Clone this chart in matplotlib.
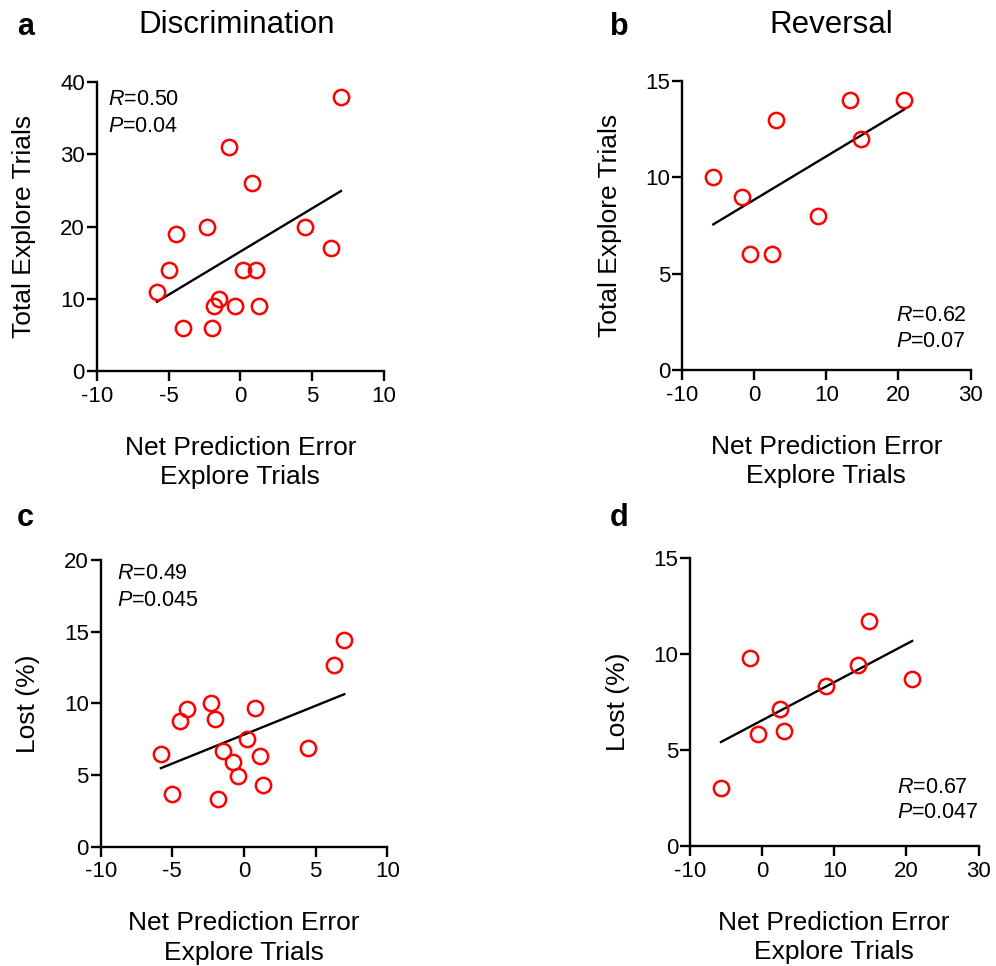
import numpy as np
import matplotlib
matplotlib.use("Agg")
import matplotlib.pyplot as plt

plt.rcParams['font.family'] = ['Liberation Sans', 'DejaVu Sans']
plt.rcParams['mathtext.fontset'] = 'custom'
plt.rcParams['mathtext.rm'] = 'Liberation Sans'
plt.rcParams['mathtext.it'] = 'Liberation Sans:italic'

# ---------------- data ----------------
# Discrimination (17 animals)
disc_npe = [7.0, -0.8, 0.8, -2.3, -4.5, 4.5, 6.3, -5.0, 0.2, 1.1, -5.8, -1.5, -1.8, -0.4, 1.3, -4.0, -2.0]
disc_explore = [38, 31, 26, 20, 19, 20, 17, 14, 14, 14, 11, 10, 9, 9, 9, 6, 6]
disc_lost = [14.4, 5.9, 9.7, 10.0, 8.8, 6.9, 12.7, 3.7, 7.5, 6.3, 6.5, 6.7, 3.3, 4.9, 4.3, 9.6, 8.9]

# Reversal (9 animals)
rev_npe = [-5.7, -1.7, -0.6, 2.5, 3.0, 8.8, 13.3, 14.8, 20.8]
rev_explore = [10, 9, 6, 6, 13, 8, 14, 12, 14]
rev_lost = [3.0, 9.8, 5.8, 7.1, 6.0, 8.3, 9.4, 11.7, 8.7]

titles = ["Discrimination", "Reversal"]
panel_letters = ["a", "b", "c", "d"]
ylabels = ["Total Explore Trials", "Total Explore Trials", "Lost (%)", "Lost (%)"]
xlabel = "Net Prediction Error\nExplore Trials"
stats_text = [("0.50", "0.04"), ("0.62", "0.07"), ("0.49", "0.045"), ("0.67", "0.047")]

disc_xticks = [-10, -5, 0, 5, 10]
rev_xticks = [-10, 0, 10, 20, 30]
yticks_a = [0, 10, 20, 30, 40]
yticks_b = [0, 5, 10, 15]
yticks_c = [0, 5, 10, 15, 20]
yticks_d = [0, 5, 10, 15]

# ---------------- figure ----------------
W, H = 996, 966
fig = plt.figure(figsize=(W / 100, H / 100), dpi=100)

def px_axes(l, r, t, b):
    return fig.add_axes([l / W, 1 - b / H, (r - l) / W, (b - t) / H])

axes = [
    px_axes(96.7, 384.0, 82.3, 371.0),
    px_axes(682.3, 970.5, 81.0, 370.0),
    px_axes(100.7, 387.3, 560.0, 846.7),
    px_axes(690.0, 978.5, 557.6, 846.0),
]

specs = [
    (disc_npe, disc_explore, disc_xticks, yticks_a),
    (rev_npe, rev_explore, rev_xticks, yticks_b),
    (disc_npe, disc_lost, disc_xticks, yticks_c),
    (rev_npe, rev_lost, rev_xticks, yticks_d),
]

stat_pos = [
    (0.038, 0.921, 0.829),
    (0.74, 0.171, 0.0785),
    (0.056, 0.933, 0.839),
    (0.717, 0.185, 0.096),
]

for i, (ax, (x, y, xt, yt)) in enumerate(zip(axes, specs)):
    x = np.asarray(x, float)
    y = np.asarray(y, float)
    ax.plot(x, y, 'o', mfc='none', mec='#ff0000', ms=11, mew=1.8, zorder=3,
            clip_on=False)
    k, b0 = np.polyfit(x, y, 1)
    xx = np.array([x.min(), x.max()])
    ax.plot(xx, k * xx + b0, color='black', lw=1.7, zorder=2)

    ax.set_xlim(xt[0], xt[-1])
    ax.set_ylim(yt[0], yt[-1])
    ax.set_xticks(xt)
    ax.set_yticks(yt)
    ax.set_xticklabels([str(v) for v in xt])
    ax.set_yticklabels([str(v) for v in yt])
    for s in ['top', 'right']:
        ax.spines[s].set_visible(False)
    for s in ['left', 'bottom']:
        ax.spines[s].set_linewidth(1.7)
    ax.tick_params(axis='both', direction='out', length=7.5, width=1.7,
                   labelsize=16, colors='black')
    ax.tick_params(axis='x', pad=3)
    ax.tick_params(axis='y', pad=1)
    ax.set_ylabel(ylabels[i], fontsize=19, labelpad=17)
    ax.set_xlabel(xlabel, fontsize=19, labelpad=21, linespacing=1.3)

    sx, sy1, sy2 = stat_pos[i]
    r, p = stats_text[i]
    ax.text(sx, sy1, r'$\mathit{R}$' + '=' + r, transform=ax.transAxes,
            fontsize=15.5, ha='left', va='baseline')
    ax.text(sx, sy2, r'$\mathit{P}$' + '=' + p, transform=ax.transAxes,
            fontsize=15.5, ha='left', va='baseline')

# titles
fig.text(237 / W, 1 - 33 / H, titles[0], fontsize=22.5, ha='center', va='baseline')
fig.text(831 / W, 1 - 33 / H, titles[1], fontsize=22.5, ha='center', va='baseline')

# panel letters
letter_pos = [(17, 35), (610, 35), (17, 526), (610, 526)]
for lt, (lx, ly) in zip(panel_letters, letter_pos):
    fig.text(lx / W, 1 - ly / H, lt, fontsize=22, fontweight='bold',
             ha='left', va='baseline')

fig.savefig("out.png", dpi=100)
